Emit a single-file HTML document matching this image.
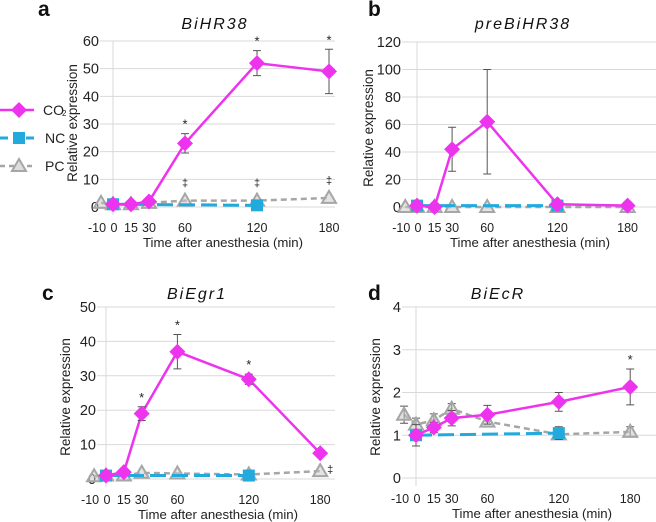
<!DOCTYPE html>
<html><head><meta charset="utf-8"><style>
html,body{margin:0;padding:0;background:#fff;width:656px;height:522px;overflow:hidden}
svg{font-family:"Liberation Sans",sans-serif}
</style></head><body>
<svg id="fig" width="656" height="522" viewBox="0 0 656 522"></svg>
<script>
const times=[-10,0,15,30,60,120,180];
const aCO2T=[0,15,30,60,120,180], aCO2=[1,1,2,23,52,49], aCO2Err=[0,0,0,3.5,4.5,8];
const aNCT=[0,120], aNC=[1,0.6];
const aPCT=[-10,0,15,30,60,120,180], aPC=[1.5,1,1,1.5,2.3,2.3,3.3];
const bCO2T=[0,15,30,60,120,180], bCO2=[1,0,42,62,2,1], bCO2Err=[0,0,16,38,0,0];
const bNCT=[0,120], bNC=[1,1];
const bPCT=[-10,0,15,30,60,120,180], bPC=[0,0,0,0,0,0,0];
const cCO2T=[0,15,30,60,120,180], cCO2=[1,2,19,37,29,7.5], cCO2Err=[0,0,2,5,1.5,0];
const cNCT=[0,120], cNC=[1,1];
const cPCT=[-10,0,15,30,60,120,180], cPC=[0.8,1,1,1.8,1.6,1.3,2.3];
const dCO2T=[0,15,30,60,120,180], dCO2=[1,1.18,1.4,1.48,1.78,2.13], dCO2Err=[0,0.12,0.18,0.22,0.22,0.42];
const dNCT=[0,120], dNC=[1,1.05], dNCErr=[0.25,0.15];
const dPCT=[-10,0,15,30,60,120,180], dPC=[1.48,1.25,1.35,1.62,1.32,1.02,1.08], dPCErr=[0.2,0.15,0.15,0.12,0,0.12,0.12];
const aTicks=[0,10,20,30,40,50,60], bTicks=[0,20,40,60,80,100,120], cTicks=[0,10,20,30,40,50], dTicks=[0,1,2,3,4];

const NS="http://www.w3.org/2000/svg", svg=document.getElementById('fig');
function el(tag,attrs,parent,txt){const e=document.createElementNS(NS,tag);for(const k in attrs)e.setAttribute(k,attrs[k]);if(txt!==undefined)e.textContent=txt;(parent||svg).appendChild(e);return e;}
const MAG="#ee33ee", BLUE="#22aadd", GREY="#a6a6a6";
function panel(p){
  const g=el('g',{});
  
  
  const ymax=p.ticks[p.ticks.length-1];
  const X=t=>p.x0+p.k*t, Y=v=>p.y0-(p.y0-p.yTop)*v/ymax;
  p.ticks.forEach(v=>{
    const l=el('line',{x1:p.gx,x2:p.gx2,y1:Y(v),y2:Y(v),stroke:"#d9d9d9","stroke-width":1},g);
    
    const t=el('text',{x:p.gx-1,y:Y(v)+5,"text-anchor":"end","font-size":14.5,fill:"#222"},g,v);
    
  });
  const ax=el('line',{x1:X(0),x2:X(0),y1:p.yTop,y2:p.y0+8,stroke:"#d9d9d9"},g);
  
  times.forEach(t=>{const e=el('text',{x:X(t)-(t<0?4:0)+(t===0?1:0),y:p.y0+25,"text-anchor":"middle","font-size":12.5,fill:"#222"},g,t);
    });
  let e=el('text',{x:p.xtx,y:p.y0+40,"text-anchor":"middle","font-size":13.2,fill:"#222"},g,"Time after anesthesia (min)");
  
  e=el('text',{x:0,y:0,transform:`translate(${p.ytx},${p.yty}) rotate(-90)`,"text-anchor":"middle","font-size":13.5,fill:"#222"},g,"Relative expression");
  
  e=el('text',{x:p.tx,y:p.ty,"text-anchor":"middle","font-size":16,"font-style":"italic","letter-spacing":"2",fill:"#111"},g,p.title);
  
  e=el('text',{x:p.lx,y:p.ly,"font-size":21,"font-weight":"bold",fill:"#111"},g,p.id);
  
  function series(T,V,Err,color,dash,width,marker,name){
    const pts=T.map((t,i)=>X(t)+","+Y(V[i])).join(" ");
    const pl=el('polyline',{points:pts,fill:"none",stroke:color,"stroke-width":width,"stroke-dasharray":dash},g);
    
    T.forEach((t,i)=>{
      const x=X(t),y=Y(V[i]);
      if(Err&&Err[i]>0){const eb=el('path',{d:`M${x},${Y(V[i]-Err[i])}V${Y(V[i]+Err[i])}M${x-4},${Y(V[i]-Err[i])}h8M${x-4},${Y(V[i]+Err[i])}h8`,stroke:"#555","stroke-width":1,fill:"none"},g);
        }
      let m;
      if(marker==='d')m=el('path',{d:`M${x},${y-8}L${x+8},${y}L${x},${y+8}L${x-8},${y}Z`,fill:color},g);
      else if(marker==='s')m=el('rect',{x:x-6,y:y-6,width:12,height:12,fill:color},g);
      else m=el('path',{d:`M${x},${y-7}L${x+7},${y+5}L${x-7},${y+5}Z`,fill:"rgba(200,200,200,0.5)",stroke:GREY,"stroke-width":2},g);
      
    });
  }
  series(p.pcT,p.pc,p.pcErr,GREY,"6,4",2.5,'t','pc');
  series(p.ncT,p.nc,p.ncErr,BLUE,"16,6",3,'s','nc');
  series(p.co2T,p.co2,p.co2Err,MAG,"",2.5,'d','co2');
  (p.stars||[]).forEach(t=>{const i=p.co2T.indexOf(t);const e=el('text',{x:X(t),y:Y(p.co2[i]+(p.co2Err[i]||0))-5,"text-anchor":"middle","font-size":13,fill:"#222"},g,"*");
    });
  (p.daggers||[]).forEach(t=>{const i=p.pcT.indexOf(t);const e=el('text',{x:X(t)+(p.dagDx||0),y:Y(p.pc[i])-(p.dagDy||12),"text-anchor":"middle","font-size":11,fill:"#222"},g,"‡");
    });
}
panel({id:'a',title:'BiHR38',ticks:aTicks,x0:113,k:1.2,y0:207,yTop:41,gx:100,gx2:335,xtx:223,ytx:77,yty:123,tx:215,ty:29,lx:38,ly:16,
  co2T:aCO2T,co2:aCO2,co2Err:aCO2Err,ncT:aNCT,nc:aNC,pcT:aPCT,pc:aPC,stars:[60,120,180],daggers:[60,120,180],dagDy:14});
panel({id:'b',title:'preBiHR38',ticks:bTicks,x0:417,k:1.17,y0:207,yTop:42,gx:402,gx2:656,xtx:530,ytx:373,yty:128,tx:523,ty:29,lx:368,ly:16,
  co2T:bCO2T,co2:bCO2,co2Err:bCO2Err,ncT:bNCT,nc:bNC,pcT:bPCT,pc:bPC});
panel({id:'c',title:'BiEgr1',ticks:cTicks,x0:106,k:1.19,y0:479,yTop:307,gx:97,gx2:335,xtx:218,ytx:70,yty:397,tx:197,ty:299,lx:42,ly:300,
  co2T:cCO2T,co2:cCO2,co2Err:cCO2Err,ncT:cNCT,nc:cNC,pcT:cPCT,pc:cPC,stars:[30,60,120],daggers:[180],dagDx:10,dagDy:-2});
panel({id:'d',title:'BiEcR',ticks:dTicks,x0:416,k:1.19,y0:478,yTop:307,gx:402,gx2:656,xtx:532,ytx:380,yty:397,tx:498,ty:299,lx:368,ly:300,
  co2T:dCO2T,co2:dCO2,co2Err:dCO2Err,ncT:dNCT,nc:dNC,ncErr:dNCErr,pcT:dPCT,pc:dPC,pcErr:dPCErr,stars:[180]});
// legend
const lg=el('g',{});


let e;
e=el('line',{x1:0,x2:34,y1:110,y2:110,stroke:MAG,"stroke-width":2.5},lg);
e=el('path',{d:"M19,102L27,110L19,118L11,110Z",fill:MAG},lg);
e=el('text',{x:43,y:115,"font-size":14,fill:"#222"},lg,"CO");

e=el('text',{x:62,y:116,"font-size":8,fill:"#222"},lg,"2");
e=el('line',{x1:0,x2:34,y1:138,y2:138,stroke:BLUE,"stroke-width":3,"stroke-dasharray":"8,5"},lg);
e=el('rect',{x:13,y:132,width:12,height:12,fill:BLUE},lg);
e=el('text',{x:45,y:143,"font-size":14,fill:"#222"},lg,"NC");

e=el('line',{x1:0,x2:34,y1:166,y2:166,stroke:GREY,"stroke-width":2.5,"stroke-dasharray":"5,4"},lg);
e=el('path',{d:"M19,159L26,171L12,171Z",fill:"#ddd",stroke:GREY,"stroke-width":2},lg);
e=el('text',{x:45,y:171,"font-size":14,fill:"#222"},lg,"PC");

</script>
</body></html>
